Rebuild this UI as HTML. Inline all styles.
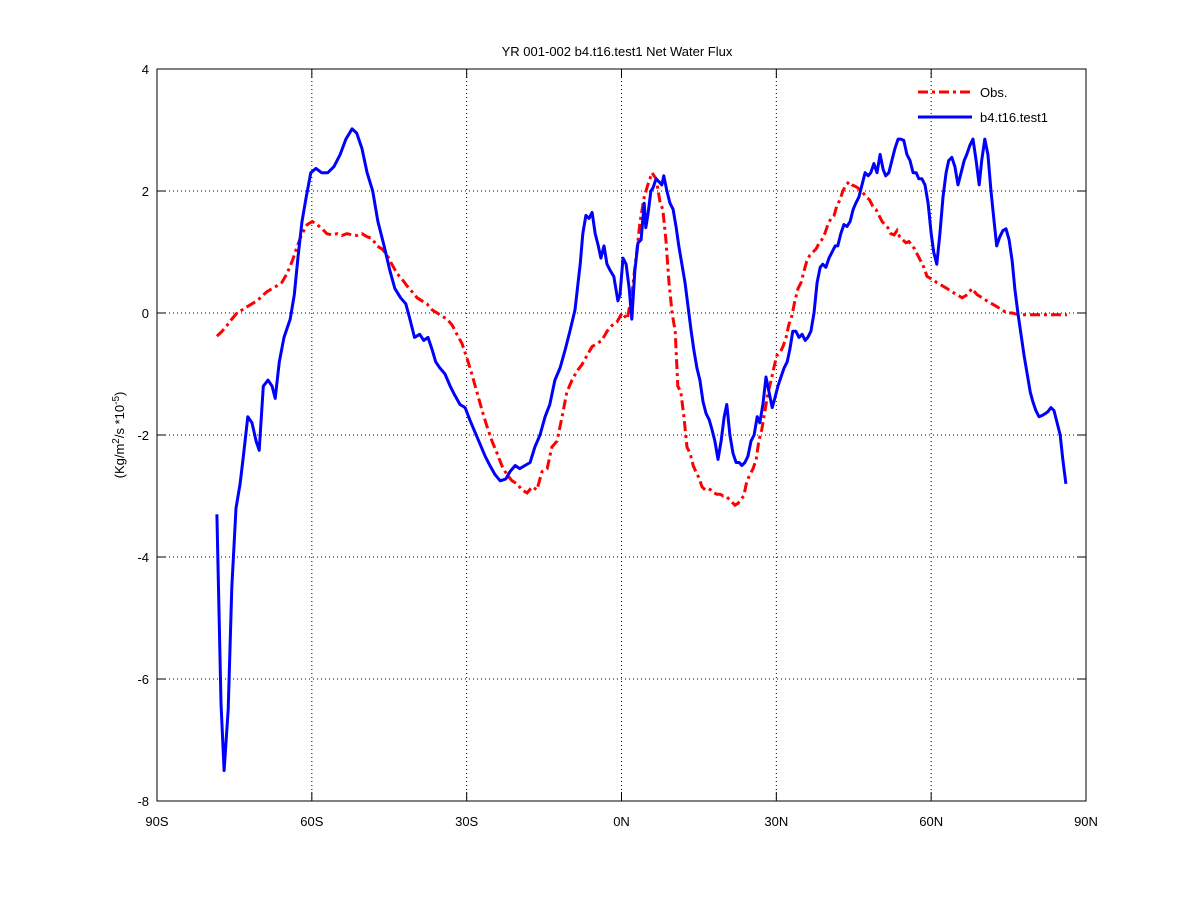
<!DOCTYPE html>
<html><head><meta charset="utf-8"><style>
body{margin:0;background:#fff}
svg text{font-family:"Liberation Sans",sans-serif;font-size:13px;fill:#000}
</style></head><body>
<svg id="chart" width="1200" height="900" xmlns="http://www.w3.org/2000/svg">
<rect width="1200" height="900" fill="#fff"/>
<g id="grid"></g>
<g id="series"></g>
<rect x="157" y="69" width="929" height="732" fill="none" stroke="#000" stroke-width="1"/>
<g id="ticks"></g>
<text x="617" y="56" text-anchor="middle">YR 001-002 b4.t16.test1  Net Water Flux</text>
<text transform="translate(124,435) rotate(-90)" text-anchor="middle">(Kg/m<tspan dy="-5" font-size="10">2</tspan><tspan dy="5">/s *10</tspan><tspan dy="-5" font-size="10">-5</tspan><tspan dy="5">)</tspan></text>
<g>
<line x1="918" y1="92" x2="972" y2="92" stroke="#f00" stroke-width="3" stroke-dasharray="10,4,3,4"/>
<text x="980" y="97">Obs.</text>
<line x1="918" y1="117" x2="972" y2="117" stroke="#00f" stroke-width="3"/>
<text x="980" y="122">b4.t16.test1</text>
</g>
</svg>
<script>
const xTicks=[-90,-60,-30,0,30,60,90];
const xTickLabels=["90S","60S","30S","0N","30N","60N","90N"];
const yTicks=[-8,-6,-4,-2,0,2,4];
const obsLat=[-78.4,-77.4,-76.4,-75.5,-74.5,-73.5,-72.6,-71.6,-70.6,-69.6,-68.7,-67.7,-66.7,-65.8,-64.8,-63.8,-62.8,-61.9,-60.9,-59.9,-59.0,-58.0,-57.1,-56.1,-55.1,-54.2,-53.2,-52.2,-51.3,-50.3,-49.3,-48.3,-47.4,-46.4,-45.4,-44.5,-43.5,-42.5,-41.6,-40.6,-39.6,-38.7,-37.7,-36.7,-35.7,-34.8,-33.8,-32.8,-31.9,-30.9,-29.9,-29.0,-28.0,-27.0,-26.1,-25.1,-24.1,-23.2,-22.2,-21.2,-20.2,-19.3,-18.3,-17.3,-16.4,-15.4,-14.4,-13.5,-12.5,-11.5,-10.6,-9.6,-8.6,-7.7,-6.7,-5.7,-4.7,-3.8,-2.8,-1.8,-0.9,0.1,1.1,2.0,2.8,3.6,4.4,5.1,5.9,6.7,7.5,8.0,8.6,9.2,9.8,10.4,10.9,11.5,12.1,12.7,13.3,13.9,14.4,15.0,15.6,16.2,16.8,17.3,17.9,18.5,19.1,19.7,20.2,20.8,21.4,22.0,22.6,23.2,23.7,24.3,24.9,25.5,26.1,26.6,27.2,27.8,28.4,29.0,29.5,30.1,30.7,31.3,31.9,32.4,33.0,33.6,34.2,34.8,35.4,35.9,36.5,37.1,37.7,38.3,38.8,39.4,40.0,40.6,41.2,41.7,42.3,42.9,43.5,44.1,44.6,45.2,45.8,46.4,47.0,47.5,48.1,48.7,49.3,49.9,50.5,51.0,51.6,52.2,52.8,53.4,53.9,54.5,55.1,55.7,56.3,56.8,57.4,58.0,58.6,59.2,60.2,61.1,62.1,63.1,64.0,65.0,66.0,67.0,67.9,68.9,69.9,70.8,71.8,72.8,73.7,74.7,75.7,76.6,77.6,78.6,86.3];
const obsVal=[-0.38,-0.3,-0.2,-0.1,0.0,0.05,0.1,0.15,0.2,0.28,0.35,0.4,0.45,0.5,0.65,0.85,1.1,1.3,1.45,1.5,1.45,1.38,1.3,1.28,1.3,1.27,1.3,1.28,1.27,1.3,1.25,1.22,1.1,1.05,0.95,0.8,0.65,0.55,0.45,0.35,0.25,0.2,0.15,0.05,0.0,-0.05,-0.1,-0.2,-0.35,-0.5,-0.75,-1.0,-1.3,-1.6,-1.85,-2.1,-2.3,-2.5,-2.65,-2.75,-2.8,-2.9,-2.95,-2.85,-2.9,-2.6,-2.55,-2.2,-2.1,-1.7,-1.3,-1.1,-0.95,-0.85,-0.7,-0.55,-0.5,-0.45,-0.3,-0.2,-0.15,0.0,-0.1,0.3,0.9,1.5,1.9,2.1,2.3,2.2,1.8,1.7,1.2,0.5,0.0,-0.3,-1.2,-1.3,-1.7,-2.2,-2.3,-2.5,-2.6,-2.7,-2.85,-2.9,-2.88,-2.9,-2.95,-2.97,-2.97,-3.0,-3.0,-3.05,-3.1,-3.15,-3.12,-3.05,-3.0,-2.75,-2.65,-2.55,-2.4,-2.1,-1.9,-1.6,-1.3,-1.1,-0.9,-0.7,-0.65,-0.55,-0.4,-0.2,-0.05,0.2,0.4,0.5,0.7,0.85,0.95,1.0,1.05,1.15,1.2,1.3,1.45,1.55,1.6,1.75,1.85,2.0,2.1,2.15,2.1,2.08,2.05,2.0,1.95,1.9,1.85,1.75,1.7,1.6,1.5,1.45,1.4,1.3,1.28,1.35,1.25,1.2,1.15,1.17,1.1,1.05,0.95,0.85,0.75,0.6,0.55,0.5,0.45,0.4,0.35,0.3,0.25,0.3,0.4,0.3,0.25,0.2,0.15,0.1,0.05,0.0,0.0,-0.02,-0.03,-0.03,-0.03];
const modelLat=[-78.4,-77.6,-77.0,-76.2,-75.5,-74.7,-73.9,-73.2,-72.4,-71.6,-70.8,-70.2,-69.4,-68.5,-67.7,-67.1,-66.3,-65.4,-64.2,-63.4,-62.7,-61.9,-61.1,-60.2,-59.2,-58.1,-56.9,-55.7,-54.5,-53.4,-52.2,-51.3,-50.3,-49.3,-48.2,-47.2,-46.0,-44.9,-43.9,-42.8,-41.8,-41.0,-40.1,-39.1,-38.3,-37.5,-36.7,-36.0,-35.2,-34.2,-33.2,-32.3,-31.3,-30.3,-29.4,-28.4,-27.4,-26.4,-25.5,-24.5,-23.5,-22.4,-21.6,-20.6,-19.7,-18.7,-17.7,-16.8,-15.8,-14.8,-13.9,-12.9,-11.9,-10.9,-10.0,-9.0,-8.4,-8.0,-7.5,-6.9,-6.3,-5.7,-5.1,-4.5,-4.0,-3.4,-2.8,-2.2,-1.5,-0.7,-0.3,0.3,0.9,1.5,2.0,2.6,3.2,3.8,4.4,4.7,5.1,5.7,6.1,6.7,7.3,7.8,8.2,8.8,9.4,10.0,10.6,11.1,11.7,12.3,12.9,13.5,14.0,14.6,15.2,15.8,16.4,17.0,17.5,18.1,18.7,19.3,19.9,20.4,21.0,21.6,22.2,22.8,23.3,23.9,24.5,25.1,25.7,26.3,26.8,27.4,28.0,28.6,29.2,29.7,30.3,30.9,31.5,32.1,32.6,33.2,33.8,34.4,35.0,35.6,36.1,36.7,37.3,37.9,38.5,39.0,39.6,40.2,40.8,41.4,41.9,42.5,43.1,43.7,44.3,44.9,45.4,46.0,46.6,47.2,47.8,48.3,48.9,49.5,50.1,50.7,51.2,51.8,52.4,53.0,53.6,54.1,54.7,55.3,55.9,56.5,57.1,57.6,58.2,58.8,59.4,60.0,60.5,61.1,61.7,62.3,62.9,63.4,64.0,64.6,65.2,65.8,66.4,66.9,67.5,68.1,68.7,69.3,69.8,70.4,71.0,71.6,72.2,72.7,73.3,73.9,74.5,75.1,75.7,76.2,76.8,77.4,78.0,78.6,79.2,79.7,80.3,80.9,81.5,82.1,82.6,83.2,83.8,84.4,85.0,85.5,86.1];
const modelVal=[-3.3,-6.4,-7.5,-6.5,-4.5,-3.2,-2.8,-2.3,-1.7,-1.8,-2.1,-2.25,-1.2,-1.1,-1.2,-1.4,-0.8,-0.4,-0.1,0.3,0.9,1.5,1.9,2.3,2.37,2.3,2.3,2.4,2.6,2.85,3.02,2.95,2.7,2.3,2.0,1.5,1.1,0.7,0.4,0.25,0.15,-0.1,-0.4,-0.35,-0.45,-0.4,-0.6,-0.8,-0.9,-1.0,-1.2,-1.35,-1.5,-1.55,-1.75,-1.95,-2.15,-2.35,-2.5,-2.65,-2.75,-2.72,-2.6,-2.5,-2.55,-2.5,-2.45,-2.2,-2.0,-1.7,-1.5,-1.1,-0.9,-0.6,-0.3,0.05,0.5,0.8,1.3,1.6,1.55,1.65,1.3,1.1,0.9,1.1,0.8,0.7,0.6,0.2,0.3,0.9,0.8,0.4,-0.1,0.7,1.15,1.2,1.8,1.4,1.6,2.0,2.05,2.2,2.15,2.1,2.25,2.0,1.8,1.7,1.4,1.1,0.8,0.5,0.1,-0.3,-0.6,-0.9,-1.1,-1.45,-1.65,-1.75,-1.9,-2.1,-2.4,-2.1,-1.7,-1.5,-2.0,-2.3,-2.45,-2.45,-2.5,-2.45,-2.35,-2.1,-2.0,-1.7,-1.8,-1.5,-1.05,-1.3,-1.55,-1.4,-1.2,-1.05,-0.9,-0.8,-0.6,-0.3,-0.3,-0.4,-0.35,-0.45,-0.4,-0.3,0.0,0.5,0.75,0.8,0.75,0.9,1.0,1.1,1.1,1.3,1.45,1.42,1.5,1.7,1.8,1.9,2.1,2.3,2.25,2.3,2.45,2.3,2.6,2.35,2.25,2.3,2.5,2.7,2.85,2.85,2.83,2.6,2.5,2.3,2.3,2.2,2.2,2.1,1.8,1.3,1.0,0.8,1.3,1.9,2.3,2.5,2.55,2.4,2.1,2.3,2.5,2.6,2.75,2.85,2.5,2.1,2.5,2.85,2.6,2.0,1.5,1.1,1.25,1.35,1.38,1.2,0.85,0.4,0.0,-0.35,-0.7,-1.0,-1.3,-1.45,-1.6,-1.7,-1.68,-1.65,-1.62,-1.55,-1.6,-1.8,-2.0,-2.4,-2.8];

const L=157,R=1086,T=69,B=801;
const xs=v=>L+(v+90)/180*(R-L);
const ys=v=>B-(v+8)/12*(B-T);
const NS="http://www.w3.org/2000/svg";
const grid=document.getElementById('grid'),ticks=document.getElementById('ticks'),series=document.getElementById('series');
function mk(tag,attrs,parent){const e=document.createElementNS(NS,tag);for(const k in attrs)e.setAttribute(k,attrs[k]);parent.appendChild(e);return e;}
xTicks.forEach((t,i)=>{
  const x=xs(t);
  if(i>0&&i<xTicks.length-1){const g=mk('line',{x1:x,y1:T,x2:x,y2:B,stroke:'#000','stroke-dasharray':'1,3'},grid);
  
  }
  const a=mk('line',{x1:x,y1:B,x2:x,y2:B-9,stroke:'#000'},ticks);
  
  
  const b=mk('line',{x1:x,y1:T,x2:x,y2:T+9,stroke:'#000'},ticks);
  
  
  const tx=mk('text',{x:x,y:B+25,'text-anchor':'middle'},ticks);tx.textContent=xTickLabels[i];
  
  
});
yTicks.forEach((t,i)=>{
  const y=ys(t);
  if(i>0&&i<yTicks.length-1){const g=mk('line',{x1:L,y1:y,x2:R,y2:y,stroke:'#000','stroke-dasharray':'1,3'},grid);
  
  }
  const a=mk('line',{x1:L,y1:y,x2:L+9,y2:y,stroke:'#000'},ticks);
  
  
  const b=mk('line',{x1:R,y1:y,x2:R-9,y2:y,stroke:'#000'},ticks);
  
  
  const tx=mk('text',{x:L-8,y:y+5,'text-anchor':'end'},ticks);tx.textContent=String(t);
  
  
});
function pts(lat,val){return lat.map((v,i)=>xs(v).toFixed(1)+','+ys(val[i]).toFixed(1)).join(' ');}
const obs=mk('polyline',{points:pts(obsLat,obsVal),fill:'none',stroke:'#f00','stroke-width':3,'stroke-dasharray':'10,4,3,4'},series);


const mod=mk('polyline',{points:pts(modelLat,modelVal),fill:'none',stroke:'#00f','stroke-width':3,'stroke-linejoin':'round'},series);


</script>
</body></html>
